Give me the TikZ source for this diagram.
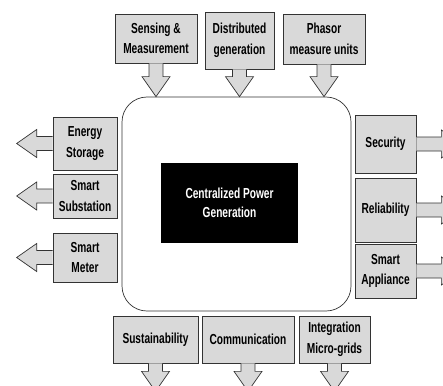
\documentclass[tikz,border=0pt]{standalone}
\usepackage{fontspec}
\setmainfont{Liberation Sans}[FakeStretch=0.7]
\usetikzlibrary{positioning,calc}

\definecolor{boxgray}{HTML}{D9D9D9}
\definecolor{edgegray}{HTML}{333333}

\tikzset{
  topic/.style={draw=edgegray, fill=boxgray, line width=0.7pt, inner sep=0pt, align=center,
    font=\fontsize{14.5}{20.5}\selectfont\bfseries},
  fatarrow/.style={draw=edgegray, fill=boxgray, line width=0.7pt, line join=miter},
}

% block arrow from #1 to #2 (shaft 14, head 28 wide, 20 long)
\newcommand{\blkarrow}[2]{%
  \draw[fatarrow] let \p1=(#1), \p2=(#2),
    \n1={atan2(\y2-\y1,\x2-\x1)}, \n2={veclen(\x2-\x1,\y2-\y1)} in
    [shift={(\p1)}, rotate=\n1]
    (0,7) -- (\n2-20,7) -- (\n2-20,14) -- (\n2,0) -- (\n2-20,-14) -- (\n2-20,-7) -- (0,-7);
}

\begin{document}
\begin{tikzpicture}[x=1pt, y=-1pt]
  \useasboundingbox (0,0) rectangle (443,385);
  \clip (0,0) rectangle (443,385);

  % hub
  \node[draw=edgegray, line width=0.7pt, rounded corners=25pt, minimum width=229pt, minimum height=214pt] (hub) at (236.5,204) {};
  \node[fill=black, text=white, inner sep=0pt, minimum width=137pt, minimum height=80pt, align=center,
        font=\fontsize{14.5}{18.5}\selectfont\bfseries] (central) at (229.5,203) {Centralized Power\\Generation};

  % top
  \node[topic, minimum width=82pt, minimum height=49pt] (sense) at (156,38.5) {Sensing \&\\Measurement};
  \node[topic, minimum width=69pt, minimum height=57pt] (dist) at (239.5,40.5) {Distributed\\generation};
  \node[topic, minimum width=82pt, minimum height=50pt] (phasor) at (324,39) {Phasor\\measure units};

  % left
  \node[topic, minimum width=64pt, minimum height=53pt] (energy) at (85,143.5) {Energy\\Storage};
  \node[topic, minimum width=64pt, minimum height=44pt] (substation) at (85,196) {Smart\\Substation};
  \node[topic, minimum width=64pt, minimum height=49pt] (meter) at (85,257.5) {Smart\\Meter};

  % right
  \node[topic, minimum width=61pt, minimum height=58pt] (security) at (385.5,144) {Security};
  \node[topic, minimum width=61pt, minimum height=64pt] (reliab) at (385.5,210) {Reliability};
  \node[topic, minimum width=61pt, minimum height=54pt] (appliance) at (385.5,271) {Smart\\Appliance};

  % bottom
  \node[topic, minimum width=85pt, minimum height=47pt] (sustain) at (155.5,339.5) {Sustainability};
  \node[topic, minimum width=92pt, minimum height=47pt] (comm) at (248,339.5) {Communication};
  \node[topic, minimum width=71pt, minimum height=47pt] (integ) at (334.5,339.5) {Integration\\Micro-grids};

  % arrows
  \foreach \b in {sense,dist,phasor}
    \blkarrow{\b.south}{\b.south |- hub.north};
  \foreach \b in {energy,substation,meter}
    \blkarrow{\b.west}{[xshift=-36pt]\b.west};
  \foreach \b in {security,reliab,appliance}
    \blkarrow{\b.east}{[xshift=45pt]\b.east};
  \foreach \b in {sustain,comm,integ}
    \blkarrow{\b.south}{[yshift=-28pt]\b.south};
\end{tikzpicture}
\end{document}
